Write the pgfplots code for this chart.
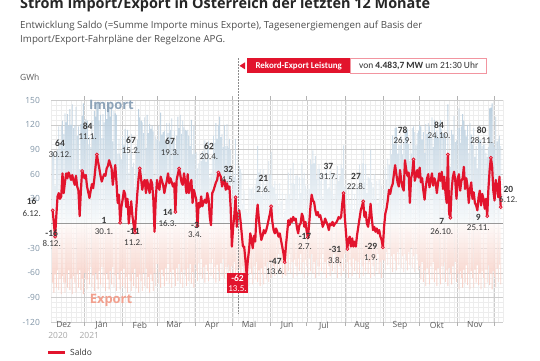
\documentclass[border=0pt]{standalone}
\usepackage{pgfplots}
\pgfplotsset{compat=1.18}
\usepackage{pgfplotstable}
\usepackage{fontspec}
\setmainfont{Open Sans}
\newfontfamily\calfont{Carlito}
\definecolor{redc}{HTML}{E2142D}
\definecolor{impcol}{HTML}{B2C9DB}
\definecolor{expcol}{HTML}{F6C6BA}
\definecolor{tickcol}{HTML}{8094A6}
\definecolor{txtdark}{HTML}{3A3A3A}
\definecolor{imptxt}{HTML}{8DA3B8}
\definecolor{exptxt}{HTML}{F2A08E}
\definecolor{dotfill}{HTML}{F6A8B4}
\pgfplotstableread{
d S I E
0 16 88 -72
1 0 84 -84
2 -16 46 -62
3 10 88 -78
4 33 90 -57
5 37 118 -81
6 30 97 -67
7 33 119 -86
8 61 125 -64
9 37 109 -72
10 50 134 -84
11 61 123 -62
12 55 133 -78
13 62 119 -57
14 58 139 -81
15 53 120 -67
16 59 145 -86
17 52 116 -64
18 47 119 -72
19 58 142 -84
20 45 107 -62
21 40 118 -78
22 9 66 -57
23 40 121 -81
24 64 131 -67
25 60 146 -86
26 55 115 -60
27 59 127 -68
28 45 125 -80
29 38 96 -58
30 31 105 -74
31 40 93 -53
32 48 125 -77
33 43 106 -63
34 55 137 -82
35 70 130 -60
36 84 148 -68
37 75 147 -80
38 67 125 -58
39 58 132 -74
40 51 104 -53
41 56 133 -77
42 60 123 -63
43 58 140 -82
44 67 127 -60
45 70 138 -68
46 77 146 -80
47 72 130 -58
48 67 141 -74
49 47 100 -53
50 60 137 -77
51 71 134 -63
52 50 132 -82
53 25 85 -60
54 35 103 -68
55 1 81 -80
56 20 78 -58
57 29 105 -76
58 40 95 -55
59 36 115 -79
60 20 85 -65
61 30 114 -84
62 0 62 -62
63 15 85 -70
64 27 109 -82
65 9 69 -60
66 -2 74 -76
67 -11 44 -55
68 15 94 -79
69 37 102 -65
70 55 139 -84
71 67 129 -62
72 55 125 -70
73 41 123 -82
74 50 110 -60
75 53 129 -76
76 37 92 -55
77 53 132 -79
78 45 110 -65
79 37 121 -84
80 53 115 -62
81 49 119 -70
82 30 112 -82
83 -10 50 -60
84 30 106 -76
85 53 102 -49
86 46 119 -73
87 41 100 -59
88 57 135 -78
89 52 108 -56
90 47 111 -64
91 37 113 -76
92 45 99 -54
93 52 122 -70
94 61 110 -49
95 49 122 -73
96 55 114 -59
97 50 128 -78
98 45 101 -56
99 49 113 -64
100 14 90 -76
101 53 107 -54
102 60 130 -70
103 67 116 -49
104 59 132 -73
105 50 109 -59
106 47 125 -78
107 61 117 -56
108 50 114 -64
109 37 113 -76
110 60 114 -54
111 37 107 -70
112 45 94 -49
113 53 126 -73
114 25 84 -59
115 41 119 -78
116 35 85 -50
117 29 87 -58
118 -3 67 -70
119 25 73 -48
120 20 84 -64
121 33 76 -43
122 21 88 -67
123 26 79 -53
124 29 101 -72
125 25 75 -50
126 37 95 -58
127 30 100 -70
128 8 56 -48
129 -2 62 -64
130 37 80 -43
131 40 107 -67
132 45 98 -53
133 50 122 -72
134 53 103 -50
135 62 120 -58
136 60 130 -70
137 57 105 -48
138 45 109 -64
139 50 93 -43
140 53 120 -67
141 41 94 -53
142 49 121 -72
143 42 92 -50
144 45 103 -58
145 20 90 -70
146 -28 24 -52
147 -5 63 -68
148 10 57 -47
149 32 103 -71
150 -4 53 -57
151 8 84 -76
152 16 70 -54
153 4 66 -62
154 -12 62 -74
155 -28 24 -52
156 -28 40 -68
157 -44 16 -60
158 -62 16 -78
159 -45 12 -57
160 -32 44 -76
161 -12 42 -54
162 -20 42 -62
163 -30 44 -74
164 -15 37 -52
165 -22 46 -68
166 8 55 -47
167 23 94 -71
168 5 62 -57
169 -10 66 -76
170 -20 34 -54
171 -15 47 -62
172 -8 66 -74
173 -12 40 -52
174 -8 60 -68
175 -2 45 -47
176 5 76 -71
177 12 59 -47
178 21 87 -66
179 2 46 -44
180 -8 44 -52
181 -12 52 -64
182 -6 36 -42
183 -10 48 -58
184 -16 21 -37
185 -12 49 -61
186 -20 27 -47
187 -28 38 -66
188 -36 8 -44
189 -47 15 -62
190 -28 36 -64
191 -12 30 -42
192 4 62 -58
193 -2 35 -37
194 6 67 -61
195 2 49 -47
196 8 74 -66
197 4 48 -44
198 6 58 -52
199 -5 59 -64
200 -12 30 -42
201 -2 56 -58
202 0 37 -37
203 12 73 -61
204 8 55 -47
205 -4 62 -66
206 2 46 -44
207 -10 42 -52
208 -17 47 -64
209 0 42 -42
210 20 78 -58
211 35 72 -37
212 28 89 -61
213 26 73 -47
214 16 82 -66
215 10 54 -44
216 14 66 -52
217 8 72 -64
218 10 52 -42
219 4 62 -58
220 -4 33 -37
221 0 61 -61
222 6 53 -47
223 2 68 -66
224 -2 42 -44
225 -8 44 -52
226 0 64 -64
227 -2 40 -42
228 2 60 -58
229 -3 34 -37
230 0 61 -61
231 1 48 -47
232 4 70 -66
233 8 52 -44
234 6 58 -52
235 8 72 -64
236 25 67 -42
237 37 95 -58
238 8 45 -37
239 -12 49 -61
240 -31 16 -47
241 -20 46 -66
242 -16 28 -44
243 -28 24 -52
244 -18 46 -64
245 -28 14 -42
246 -22 36 -58
247 -28 17 -45
248 -14 47 -61
249 -4 43 -47
250 6 72 -66
251 16 60 -44
252 21 73 -52
253 27 91 -64
254 8 50 -42
255 14 72 -58
256 0 37 -37
257 -4 57 -61
258 8 55 -47
259 24 90 -66
260 6 50 -44
261 -8 44 -52
262 -4 60 -64
263 -10 32 -42
264 -6 52 -58
265 -12 25 -37
266 -8 53 -61
267 -16 31 -47
268 -20 46 -66
269 -29 15 -44
270 -4 41 -45
271 12 69 -57
272 18 53 -35
273 28 79 -51
274 41 71 -30
275 36 90 -54
276 44 84 -40
277 48 107 -59
278 60 97 -37
279 71 116 -45
280 60 117 -57
281 50 85 -35
282 45 96 -51
283 65 95 -30
284 52 106 -54
285 44 84 -40
286 40 99 -59
287 77 114 -37
288 66 111 -45
289 58 115 -57
290 62 97 -35
291 25 76 -51
292 55 85 -30
293 62 116 -54
294 78 118 -40
295 52 111 -59
296 58 95 -37
297 65 110 -45
298 56 113 -57
299 68 120 -52
300 50 118 -68
301 55 102 -47
302 40 111 -71
303 29 86 -57
304 45 121 -76
305 55 109 -54
306 60 122 -62
307 44 118 -74
308 52 104 -52
309 61 129 -68
310 46 93 -47
311 55 126 -71
312 50 107 -57
313 37 113 -76
314 50 104 -54
315 61 123 -62
316 52 126 -74
317 63 115 -52
318 42 110 -68
319 57 104 -47
320 38 109 -71
321 25 82 -57
322 84 145 -76
323 12 66 -54
324 7 69 -62
325 40 114 -74
326 56 108 -52
327 63 131 -68
328 52 99 -47
329 30 101 -71
330 55 116 -61
331 60 140 -80
332 40 98 -58
333 52 118 -66
334 55 133 -78
335 69 125 -56
336 42 114 -72
337 55 106 -51
338 45 120 -75
339 25 86 -61
340 42 122 -80
341 50 108 -58
342 30 96 -66
343 38 116 -78
344 25 81 -56
345 22 94 -72
346 16 67 -51
347 32 107 -75
348 40 101 -61
349 22 102 -80
350 36 94 -58
351 30 96 -66
352 18 96 -78
353 30 86 -56
354 9 81 -72
355 42 93 -51
356 65 140 -75
357 80 141 -61
358 70 146 -80
359 40 98 -58
360 28 93 -65
361 53 130 -77
362 45 100 -55
363 32 103 -71
364 57 107 -50
365 20 94 -74
}\datatable
\tikzset{
  vlab/.style={font=\calfont\bfseries\fontsize{9.5}{10}\selectfont, text=txtdark, inner sep=0pt},
  dlab/.style={font=\calfont\fontsize{9}{10}\selectfont, text=txtdark, inner sep=0pt}
}
\newcommand\lab[5]{\node[vlab] at (#1,#2) {#3};\node[dlab] at (#1,#4) {#5};}
\begin{document}
\begin{tikzpicture}[x=1bp,y=1bp]
% title & subtitle
\node[anchor=base west, inner sep=0pt, font=\bfseries\fontsize{14.5}{16}\selectfont, text=black!85] at (20,351.5) {Strom Import/Export in Österreich der letzten 12 Monate};
\node[anchor=base west, inner sep=0pt, font=\fontsize{9.8}{11}\selectfont, text=black!70] at (20,331.5) {Entwicklung Saldo (=Summe Importe minus Exporte), Tagesenergiemengen auf Basis der};
\node[anchor=base west, inner sep=0pt, font=\fontsize{9.8}{11}\selectfont, text=black!70] at (20,317.5) {Import/Export-Fahrpläne der Regelzone APG.};
\node[anchor=west, inner sep=0pt, font=\fontsize{8.5}{10}\selectfont, text=black!65] at (20,282.7) {GWh};
\begin{axis}[
  at={(41.9,46)}, anchor=south west,
  width=451.7bp, height=222bp, scale only axis,
  xmin=-1, xmax=367, ymin=-120, ymax=150,
  axis line style={draw=none},
  /pgf/number format/assume math mode=true,
  ytick={-120,-90,-60,-30,30,60,90,120,150},
  yticklabel style={font=\fontsize{8.5}{9}\selectfont, text=tickcol, xshift=-4bp},
  minor ytick={-114,-108,...,150},
  xtick={26,57,85,116,146,177,207,238,269,299,330,360},
  xticklabels={},
  minor xtick={-1,3,...,367},
  grid=both,
  major grid style={draw=black!20, line width=0.5bp},
  minor grid style={draw=black!7, line width=0.4bp},
  tick align=outside,
  major tick length=4bp, minor tick length=0pt,
  xtick style={draw=black!30, line width=0.6bp},
  ytick style={draw=none},
  extra x ticks={9,40,71,99,130,160,191,221,252,283,313,344},
  extra x tick labels={Dez,Jän,Feb,Mär,Apr,Mai,Jun,Jul,Aug,Sep,Okt,Nov},
  extra x tick style={grid=none, major tick length=0pt,
     xticklabel style={font=\fontsize{8.5}{10}\selectfont, text=black!65, yshift=4bp}},
  clip=false,
]
\addplot[ybar, bar width=0.7, bar shift=0pt, draw=none, fill opacity=0.9, top color=impcol, bottom color=impcol!10] table[x=d,y=I] {\datatable};
\addplot[ybar, bar width=0.7, bar shift=0pt, draw=none, fill opacity=0.9, top color=expcol!10, bottom color=expcol] table[x=d,y=E] {\datatable};
\draw[black!40, line width=0.8bp] (axis cs:-1,0) -- (axis cs:367,0);
\addplot[redc, line width=2.2bp, line join=round, no marks] table[x=d,y=S] {\datatable};
\addplot[only marks, mark=*, mark size=1.5bp, mark options={fill=dotfill, draw=redc, line width=0.7bp}] coordinates {
(0,16) (2,-16) (24,64) (36,84) (55,1) (67,-11) (71,67) (100,14) (103,67) (118,-3) (135,62) (149,32) (158,-62) (178,21) (189,-47) (208,-17) (237,37) (240,-31) (253,27) (269,-29) (294,78) (322,84) (324,7) (354,9) (357,80) (365,20)};
\end{axis}
% Import / Export words
\node[font=\bfseries\fontsize{13}{15}\selectfont, text=imptxt, inner sep=0pt] at (111.5,254) {Import};
\node[font=\bfseries\fontsize{13}{15}\selectfont, text=exptxt, inner sep=0pt] at (111,60) {Export};
% year labels
\node[font=\fontsize{8.5}{10}\selectfont, text=black!35, inner sep=0pt] at (58,25) {2020};
\node[font=\fontsize{8.5}{10}\selectfont, text=black!35, inner sep=0pt] at (89.3,25) {2021};
% record marker
\draw[black!45, dash pattern=on 1.5bp off 1.5bp, line width=0.6bp] (238,302) -- (238,46);
\fill[redc] (239.5,294.2) -- (245,297.7) -- (245,290.7) -- cycle;
\fill[redc] (246.7,286.7) rectangle (350.7,301.7);
\node[font=\calfont\bfseries\fontsize{9}{10}\selectfont, text=white, inner sep=0pt] at (298.7,294.2) {Rekord-Export Leistung};
\draw[redc!45, line width=0.6bp, fill=white] (350.7,286.7) rectangle (486.7,301.7);
\node[font=\calfont\fontsize{9.5}{10}\selectfont, text=black!80, inner sep=0pt] at (418.7,294.2) {von \textbf{4.483,7 MW} um 21:30 Uhr};
% value labels
\lab{31.7}{158.2}{16}{146}{6.12.}
\lab{51.7}{126.7}{-16}{116.7}{8.12.}
\lab{60}{216.7}{64}{205.7}{30.12.}
\lab{87.7}{233.3}{84}{223.3}{11.1.}
\lab{104}{140}{1}{128.3}{30.1.}
\lab{133.3}{128.3}{-11}{117.3}{11.2.}
\lab{131}{219.3}{67}{209.3}{15.2.}
\lab{167.7}{147.7}{14}{136.7}{16.3.}
\lab{170}{218.3}{67}{207.3}{19.3.}
\lab{195}{135}{-3}{125}{3.4.}
\lab{209}{214}{62}{203.3}{20.4.}
\lab{228.3}{190.7}{32}{180}{4.5.}
\lab{263.3}{181.7}{21}{170.7}{2.6.}
\lab{275.3}{99}{-47}{88.3}{13.6.}
\lab{305}{123.3}{-17}{113}{2.7.}
\lab{328.3}{193.3}{37}{183.3}{31.7.}
\lab{335}{111}{-31}{100}{3.8.}
\lab{356}{183.3}{27}{173.3}{22.8.}
\lab{371}{113.3}{-29}{102.7}{1.9.}
\lab{402.7}{229.3}{78}{219}{26.9.}
\lab{439}{234.3}{84}{224}{24.10.}
\lab{441.7}{138.3}{7}{128.3}{26.10.}
\lab{481.7}{230}{80}{220}{28.11.}
\lab{478.3}{142.7}{9}{132.7}{25.11.}
\lab{508.3}{170.7}{20}{160}{6.12.}
\fill[redc] (226.7,66.7) rectangle (248.3,87.3);
\node[font=\calfont\bfseries\fontsize{9.5}{10}\selectfont, text=white, inner sep=0pt] at (237.5,81.7) {-62};
\node[font=\calfont\fontsize{9}{10}\selectfont, text=white, inner sep=0pt] at (237.5,71.3) {13.5.};
% legend
\draw[redc, line width=2.5bp] (48,7.3) -- (65,7.3);
\node[anchor=west, inner sep=0pt, font=\fontsize{8.5}{10}\selectfont, text=black!80] at (70,7.3) {Saldo};
\pgfresetboundingbox
\useasboundingbox (0,0) rectangle (540,360);
\end{tikzpicture}
\end{document}
